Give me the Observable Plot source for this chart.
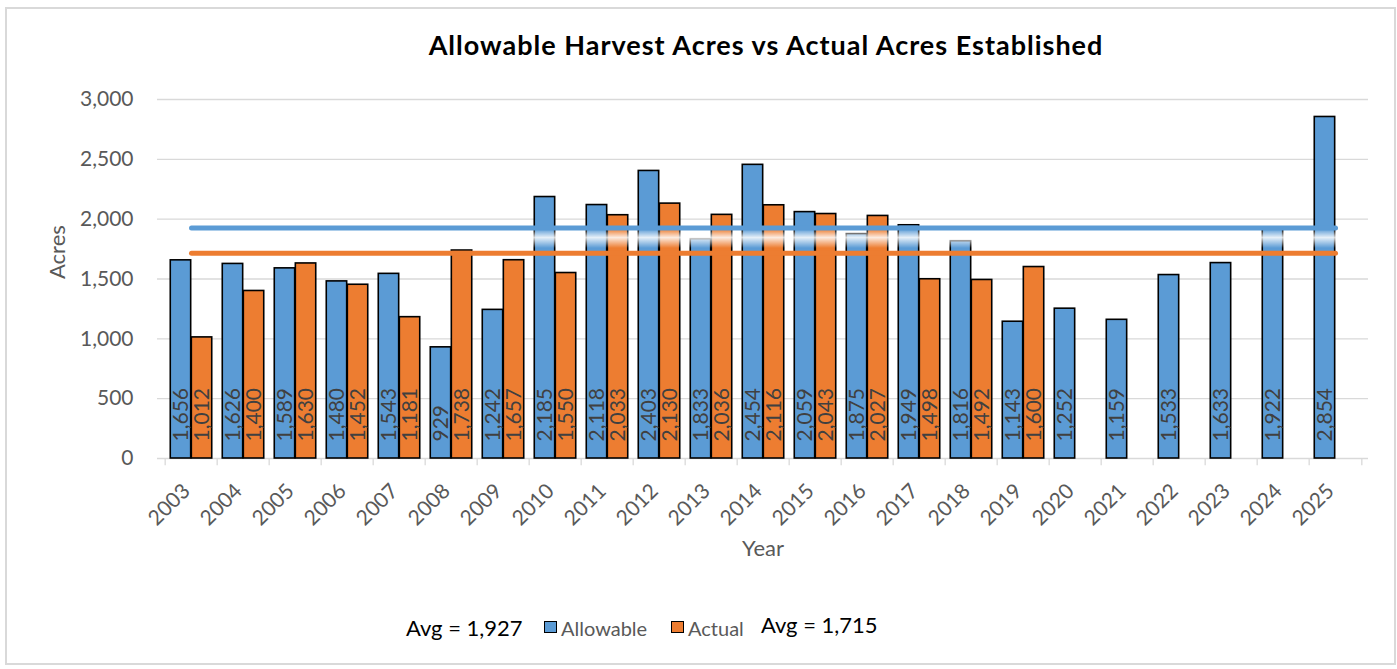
<!DOCTYPE html>
<html>
<head>
<meta charset="utf-8">
<script src="https://cdn.jsdelivr.net/npm/d3@7"></script>
<script src="https://cdn.jsdelivr.net/npm/@observablehq/plot@0.6"></script>
<style>
  body { margin: 0; background: #fff; }
  #wrap { position: relative; width: 1397px; height: 669px; overflow: hidden; font-family: Lato, "Open Sans", sans-serif; }
  #border { position: absolute; left: 5px; top: 7px; width: 1387px; height: 654px; border: 2px solid #d9d9d9; }
  #chart { position: absolute; left: 0; top: 0; }
  .abs { position: absolute; white-space: nowrap; line-height: 1.2; }
  #title { left: 766px; top: 29px; transform: translateX(-50%); font-size: 27px; letter-spacing: 1px; font-weight: 700; color: #000; }
  .sw { position: absolute; width: 11px; height: 10px; border: 1.5px solid #000; }
</style>
</head>
<body>
<div id="wrap">
  <div id="border"></div>
  <div id="chart"></div>
  <div id="title" class="abs">Allowable Harvest Acres vs Actual Acres Established</div>
  <div class="abs" style="left:406px; top:615px; font-size:22px; color:#000;">Avg = 1,927</div>
  <div class="sw" style="left:544px; top:621px; background:#5B9BD5;"></div>
  <div class="abs" style="left:561px; top:616px; font-size:20px; color:#595959;">Allowable</div>
  <div class="sw" style="left:671px; top:621px; background:#ED7D31;"></div>
  <div class="abs" style="left:688px; top:616px; font-size:20px; color:#595959;">Actual</div>
  <div class="abs" style="left:761px; top:612px; font-size:22px; color:#000;">Avg = 1,715</div>
</div>
<script>
// ---- data ----
const years = ["2003","2004","2005","2006","2007","2008","2009","2010","2011","2012","2013","2014","2015","2016","2017","2018","2019","2020","2021","2022","2023","2024","2025"];
const allowable = [1656,1626,1589,1480,1543,929,1242,2185,2118,2403,1833,2454,2059,1875,1949,1816,1143,1252,1159,1533,1633,1922,2854];
const actual = [1012,1400,1630,1452,1181,1738,1657,1550,2033,2130,2036,2116,2043,2027,1498,1492,1600];
const avgAllowable = 1927;
const avgActual = 1715;
const yTicks = [0,500,1000,1500,2000,2500,3000];

// ---- tables ----
const allowData = years.map((y, i) => ({year: y, value: allowable[i]}));
const actualData = actual.map((v, i) => ({year: years[i], value: v}));
const avgAllowData = [{year: years[0], v: avgAllowable}, {year: years[years.length - 1], v: avgAllowable}];
const avgActualData = [{year: years[0], v: avgActual}, {year: years[years.length - 1], v: avgActual}];

const W = 1397, H = 590, mL = 157, mR = 29, mT = 99, mB = 132;
const bw = (W - mL - mR) / years.length;
const gap = 0.1 * bw, barW = 0.4 * bw;
const fmt = d3.format(",");
const blue = "#5B9BD5", orange = "#ED7D31";

const plot = Plot.plot({
  width: W, height: H,
  marginLeft: mL, marginRight: mR, marginTop: mT, marginBottom: mB,
  style: {fontFamily: "Lato, 'Open Sans', sans-serif", fontSize: "21px", color: "#595959", background: "transparent"},
  x: {domain: years, padding: 0, label: null, axis: null},
  y: {domain: [0, 3000], ticks: yTicks, tickFormat: fmt, label: null, tickSize: 0, tickPadding: 24},
  marks: [
    Plot.ruleY(yTicks, {stroke: "#d9d9d9", strokeWidth: 1.3}),
    Plot.ruleX(years, {x: d => d, y1: 0, y2: -60, dx: -bw / 2, stroke: "#d9d9d9", strokeWidth: 1.3}),
    Plot.ruleX([years[years.length - 1]], {x: d => d, y1: 0, y2: -60, dx: bw / 2, stroke: "#d9d9d9", strokeWidth: 1.3}),
    Plot.text(years, {x: d => d, y: 0, text: d => d, rotate: -45, textAnchor: "end", lineAnchor: "middle",
      dx: -5, dy: 29, fill: "#595959", fontSize: 21}),
    Plot.barY(allowData, {x: "year", y: "value", fill: blue, stroke: "#000", strokeWidth: 1.6,
      insetLeft: gap, insetRight: bw - gap - barW}),
    Plot.barY(actualData, {x: "year", y: "value", fill: orange, stroke: "#000", strokeWidth: 1.6,
      insetLeft: gap + barW, insetRight: gap}),
    Plot.barY(years, {x: d => d, y1: 1755, y2: 1914, fill: "url(#glow)"}),
    Plot.lineY(avgAllowData, {x: "year", y: "v", stroke: blue, strokeWidth: 5, strokeLinecap: "round"}),
    Plot.lineY(avgActualData, {x: "year", y: "v", stroke: orange, strokeWidth: 5, strokeLinecap: "round"}),
    Plot.text(allowData, {x: "year", y: 0, text: d => fmt(d.value), rotate: -90, textAnchor: "start", lineAnchor: "middle",
      dx: -barW / 2, dy: -17, fill: "#404040", fontSize: 21}),
    Plot.text(actualData, {x: "year", y: 0, text: d => fmt(d.value), rotate: -90, textAnchor: "start", lineAnchor: "middle",
      dx: barW / 2, dy: -17, fill: "#404040", fontSize: 21}),
    Plot.text(["Acres"], {text: d => d, frameAnchor: "left", dx: -100, rotate: -90, fill: "#595959", fontSize: 22}),
    Plot.text(["Year"], {text: d => d, frameAnchor: "bottom", dy: 97, fill: "#595959", fontSize: 22})
  ]
});

const svg = d3.select(plot);
const defs = svg.insert("defs", ":first-child");
const g = defs.append("linearGradient").attr("id", "glow").attr("x1", 0).attr("y1", 0).attr("x2", 0).attr("y2", 1);
g.append("stop").attr("offset", "0%").attr("stop-color", "#fff").attr("stop-opacity", 0);
g.append("stop").attr("offset", "45%").attr("stop-color", "#fff").attr("stop-opacity", 0.85);
g.append("stop").attr("offset", "100%").attr("stop-color", "#fff").attr("stop-opacity", 0);

document.getElementById("chart").appendChild(plot);
</script>
</body>
</html>
